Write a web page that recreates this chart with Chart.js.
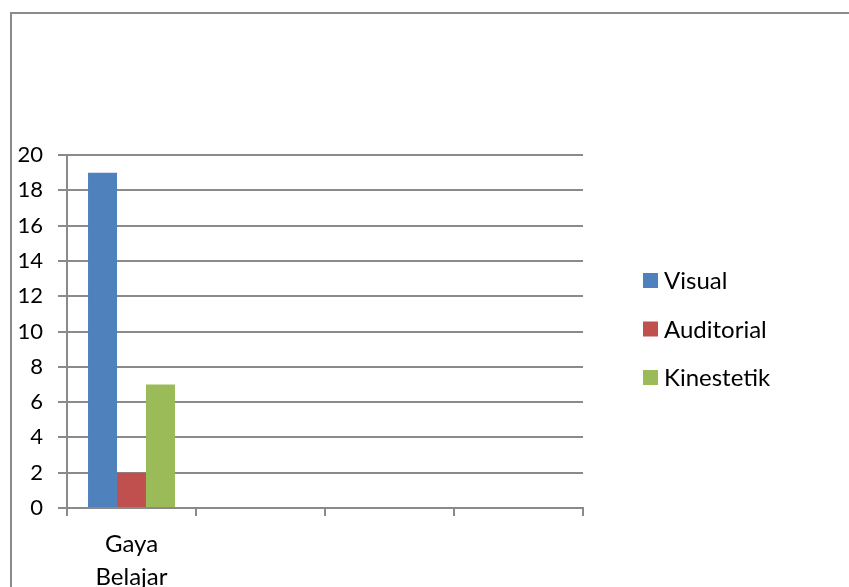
<!DOCTYPE html>
<html>
<head>
<meta charset="utf-8">
<script src="https://cdn.jsdelivr.net/npm/chart.js@4.4.1/dist/chart.umd.min.js"></script>
<style>
    html, body { margin: 0; padding: 0; width: 849px; height: 587px; overflow: hidden; background: #fff; }
    #frame { position: absolute; left: 10px; top: 12px; width: 900px; height: 700px; border: 2px solid #8a8a8a; }
    #wrap { position: absolute; left: 0; top: 0; width: 849px; height: 612px; }
</style>
</head>
<body>
<div id="frame"></div>
<div id="wrap"><canvas id="grafico"></canvas></div>
<script>
// Datos del gráfico
const categorias = [["Gaya", "Belajar"], "", "", ""];
const visual = [19, null, null, null];
const auditorial = [2, null, null, null];
const kinestetik = [7, null, null, null];
const yTicks = [0, 2, 4, 6, 8, 10, 12, 14, 16, 18, 20];

const gris = "#8a8a8a";
const fuente = "Lato, 'Liberation Sans', sans-serif";

// Leyenda dibujada a la derecha del área del gráfico
const leyendaPlugin = {
    id: "leyendaDerecha",
    afterDraw(chart) {
        const ctx = chart.ctx;
        const x = chart.chartArea.right + 60;
        const yInicio = 280.5;
        const paso = 48.5;
        ctx.save();
        ctx.font = "24px " + fuente;
        ctx.textBaseline = "middle";
        chart.data.datasets.forEach((ds, i) => {
            const y = yInicio + i * paso;
            ctx.fillStyle = ds.backgroundColor;
            ctx.fillRect(x, y - 7.5, 15, 15);
            ctx.fillStyle = "#000";
            ctx.fillText(ds.label, x + 21, y + 1);
        });
        ctx.restore();
    }
};

new Chart(document.getElementById("grafico"), {
    type: "bar",
    data: {
        labels: categorias,
        datasets: [
            { label: "Visual", data: visual, backgroundColor: "#4F81BD" },
            { label: "Auditorial", data: auditorial, backgroundColor: "#C0504D" },
            { label: "Kinestetik", data: kinestetik, backgroundColor: "#9BBB59" }
        ]
    },
    options: {
        responsive: true,
        maintainAspectRatio: false,
        animation: false,
        datasets: { bar: { categoryPercentage: 0.674, barPercentage: 1 } },
        layout: { padding: { top: 155, right: 266, bottom: 6, left: 0 } },
        plugins: { legend: { display: false }, tooltip: { enabled: false } },
        scales: {
            x: {
                grid: { drawOnChartArea: false, drawTicks: true, tickLength: 8, color: gris, lineWidth: 2 },
                border: { color: gris, width: 2 },
                ticks: { color: "#000", padding: 12, font: { family: fuente, size: 24, lineHeight: 1.375 } }
            },
            y: {
                min: 0,
                max: 20,
                afterFit(scale) { scale.width = 67; },
                afterBuildTicks(scale) { scale.ticks = yTicks.map(v => ({ value: v })); },
                grid: { color: gris, lineWidth: 2, tickLength: 9 },
                border: { color: gris, width: 2 },
                ticks: { color: "#000", padding: 15, font: { family: fuente, size: 22 } }
            }
        }
    },
    plugins: [leyendaPlugin]
});
</script>
</body>
</html>
